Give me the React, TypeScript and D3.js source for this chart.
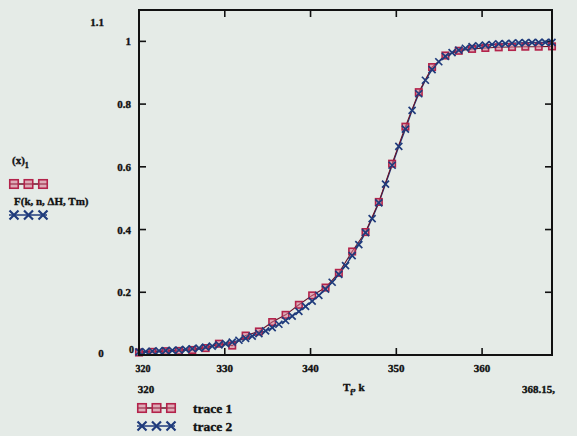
import React from "react";
import * as d3 from "d3";

const W = 577;
const H = 436;

// x-axis limits and ticks
const xLimits = [320, 368.15];
const yLimits = [0, 1.1];
const xTicks = [330, 340, 350, 360];
const xTickLabels = ["330", "340", "350", "360"];
const yTicks = [0.2, 0.4, 0.6, 0.8, 1];
const yTickLabels = ["0.2", "0.4", "0.6", "0.8", "1"];

// trace 1: measured fraction (red squares)
const t1T = [320.0, 321.55, 323.11, 324.66, 326.21, 327.77, 329.32, 330.87, 332.43, 333.98, 335.53, 337.09, 338.64, 340.19, 341.75, 343.3, 344.85, 346.41, 347.96, 349.51, 351.06, 352.62, 354.17, 355.72, 357.28, 358.83, 360.38, 361.94, 363.49, 365.04, 366.6, 368.15];
const t1Y = [0.008, 0.01, 0.012, 0.013, 0.016, 0.022, 0.036, 0.03, 0.062, 0.075, 0.105, 0.128, 0.16, 0.19, 0.215, 0.262, 0.33, 0.392, 0.488, 0.61, 0.728, 0.838, 0.918, 0.955, 0.97, 0.976, 0.979, 0.981, 0.982, 0.983, 0.983, 0.984];

// trace 2: fitted F(k, n, ΔH, Tm) (blue crosses)
const t2T = [320.0, 320.78, 321.55, 322.33, 323.11, 323.88, 324.66, 325.44, 326.21, 326.99, 327.77, 328.54, 329.32, 330.1, 330.87, 331.65, 332.43, 333.2, 333.98, 334.76, 335.53, 336.31, 337.09, 337.86, 338.64, 339.42, 340.19, 340.97, 341.75, 342.52, 343.3, 344.08, 344.85, 345.63, 346.41, 347.18, 347.96, 348.74, 349.51, 350.29, 351.06, 351.84, 352.62, 353.39, 354.17, 354.95, 355.72, 356.5, 357.28, 358.05, 358.83, 359.61, 360.38, 361.16, 361.94, 362.71, 363.49, 364.27, 365.04, 365.82, 366.6, 367.37, 368.15];
const t2Y = [0.01, 0.011, 0.012, 0.013, 0.014, 0.015, 0.016, 0.018, 0.02, 0.022, 0.025, 0.028, 0.032, 0.036, 0.041, 0.047, 0.053, 0.06, 0.068, 0.077, 0.087, 0.098, 0.11, 0.124, 0.139, 0.155, 0.172, 0.19, 0.21, 0.232, 0.257, 0.285, 0.317, 0.352, 0.39, 0.435, 0.485, 0.545, 0.605, 0.665, 0.72, 0.78, 0.833, 0.876, 0.91, 0.935, 0.952, 0.964, 0.972, 0.978, 0.983, 0.986, 0.988, 0.99, 0.992, 0.993, 0.994, 0.995, 0.996, 0.996, 0.997, 0.997, 0.997];

const RED = "#b3234b";
const RED_LINE = "#6a1228";
const BLUE = "#1f3b7c";
const BG = "#e5ebe7";
const FONT = "'Liberation Serif', 'DejaVu Serif', serif";

function Square({ x, y, s = 6.5 }: { x: number; y: number; s?: number }) {
  return (
    <rect x={x - s / 2} y={y - s / 2} width={s} height={s} fill="#d9778f" fillOpacity={0.55} stroke={RED} strokeWidth={1.6} />
  );
}

function Cross({ x, y, s = 3.5, w = 1.7 }: { x: number; y: number; s?: number; w?: number }) {
  return (
    <path d={`M${x - s},${y - s}L${x + s},${y + s}M${x - s},${y + s}L${x + s},${y - s}`} stroke={BLUE} strokeWidth={w} fill="none" />
  );
}

export default function App() {
  const x = d3.scaleLinear().domain(xLimits).range([139, 552]);
  const y = d3.scaleLinear().domain(yLimits).range([355, 10]);
  const x0 = x(xLimits[0]);
  const x1 = x(xLimits[1]);
  const y0 = y(yLimits[0]);
  const y1 = y(yLimits[1]);
  const tl = 7;

  const line = d3
    .line<[number, number]>()
    .x((d) => x(d[0]))
    .y((d) => y(d[1]));
  const p1 = line(t1T.map((t, i) => [t, t1Y[i]]) as [number, number][]) || "";
  const p2 = line(t2T.map((t, i) => [t, t2Y[i]]) as [number, number][]) || "";

  const ts = (size: number) =>
    ({ fontFamily: FONT, fontWeight: 700, fontSize: size, fill: "#111", stroke: "#111", strokeWidth: 0.35 }) as const;

  const legendRow = (kind: "sq" | "x", lx: number, ly: number) => (
    <g>
      <line x1={lx} x2={lx + 38} y1={ly} y2={ly} stroke={kind === "sq" ? RED_LINE : BLUE} strokeWidth={1.4} />
      {[0, 1, 2].map((i) =>
        kind === "sq" ? (
          <Square key={i} x={lx + 5 + i * 14.5} y={ly} s={8.5} />
        ) : (
          <Cross key={i} x={lx + 5 + i * 14.5} y={ly} s={4.5} w={2.2} />
        )
      )}
    </g>
  );

  return (
    <svg width={W} height={H} style={{ position: "absolute", left: 0, top: 0 }}>
      <rect x={0} y={0} width={W} height={H} fill={BG} />

      {/* ticks */}
      {xTicks.map((t) => (
        <g key={"xt" + t}>
          <line x1={x(t)} x2={x(t)} y1={y0} y2={y0 - tl} stroke="#111" strokeWidth={1.6} />
          <line x1={x(t)} x2={x(t)} y1={y1} y2={y1 + tl} stroke="#111" strokeWidth={1.6} />
        </g>
      ))}
      {yTicks.map((t) => (
        <g key={"yt" + t}>
          <line x1={x0} x2={x0 + tl} y1={y(t)} y2={y(t)} stroke="#111" strokeWidth={1.6} />
          <line x1={x1} x2={x1 - tl} y1={y(t)} y2={y(t)} stroke="#111" strokeWidth={1.6} />
        </g>
      ))}

      {/* data */}
      <path d={p2} fill="none" stroke={BLUE} strokeWidth={1.3} />
      <path d={p1} fill="none" stroke={RED_LINE} strokeWidth={1.1} />
      {t1T.map((t, i) => (
        <Square key={"s" + i} x={x(t)} y={y(t1Y[i])} />
      ))}
      {t2T.map((t, i) => (
        <Cross key={"c" + i} x={x(t)} y={y(t2Y[i])} />
      ))}

      {/* frame */}
      <rect x={x0} y={y1} width={x1 - x0} height={y0 - y1} fill="none" stroke="#111" strokeWidth={2} />

      {/* y labels */}
      <text x={104} y={26} textAnchor="end" {...ts(11)}>1.1</text>
      {yTicks.map((t, i) => (
        <text key={"yl" + t} x={131} y={y(t) + 4} textAnchor="end" {...ts(11)}>
          {yTickLabels[i]}
        </text>
      ))}
      <text x={134} y={353} textAnchor="end" {...ts(10)}>0</text>
      <text x={101} y={357} textAnchor="middle" {...ts(11)}>0</text>

      {/* x labels */}
      <text x={x0 + 4} y={372} textAnchor="middle" {...ts(10)}>320</text>
      {xTicks.map((t, i) => (
        <text key={"xl" + t} x={x(t)} y={372} textAnchor="middle" {...ts(11)}>
          {xTickLabels[i]}
        </text>
      ))}
      <text x={146} y={393} textAnchor="middle" {...ts(11)}>320</text>
      <text x={343} y={391} {...ts(11)}>
        T<tspan fontSize={8} dy={4}>f</tspan>
        <tspan dy={-4}>, k</tspan>
      </text>
      <text x={522} y={393} {...ts(11)}>368.15,</text>

      {/* left legend */}
      <text x={12} y={164} {...ts(11)}>
        (x)<tspan fontSize={8} dy={4}>1</tspan>
      </text>
      {legendRow("sq", 9, 184)}
      <text x={14} y={205} {...ts(11)}>F(k, n, ΔH, Tm)</text>
      {legendRow("x", 9, 215)}

      {/* bottom legend */}
      {legendRow("sq", 137, 408)}
      <text x={193} y={413} {...ts(13.5)}>trace 1</text>
      {legendRow("x", 137, 426)}
      <text x={193} y={431} {...ts(13.5)}>trace 2</text>
    </svg>
  );
}
